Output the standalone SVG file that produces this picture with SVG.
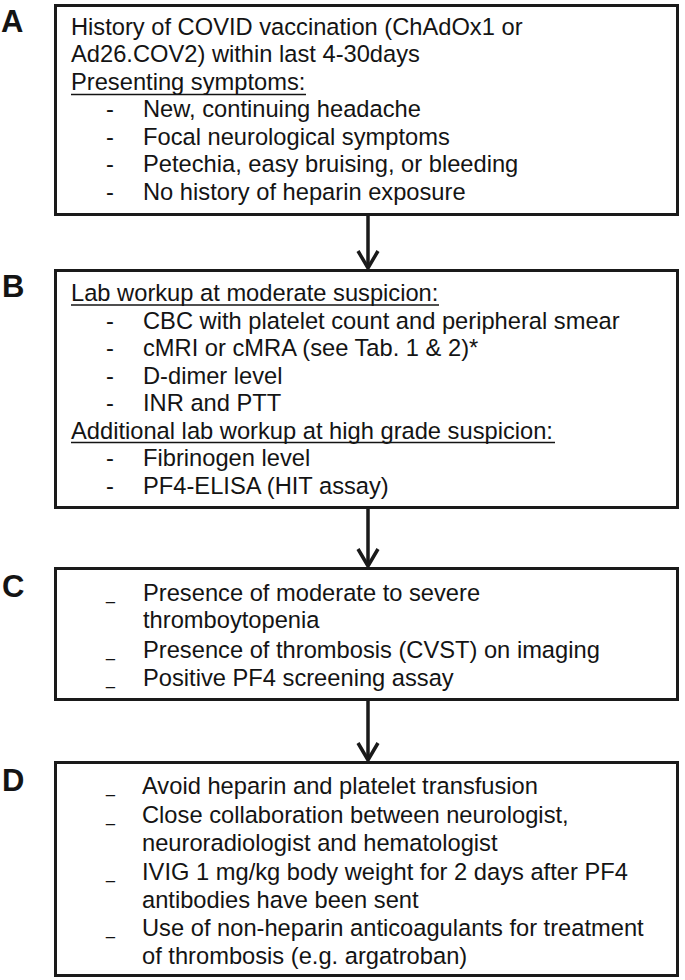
<svg xmlns="http://www.w3.org/2000/svg" width="685" height="980" viewBox="0 0 685 980">
<style>
  .box { fill: #ffffff; stroke: #1a1a1a; stroke-width: 3; }
  .t { font-family: "Liberation Sans", Arial, sans-serif; font-size: 23.7px; fill: #141414; }
  .ul { stroke: #141414; stroke-width: 1.6; }
  .lab { font-family: "Liberation Sans", Arial, sans-serif; font-size: 31px; font-weight: bold; fill: #141414; }
  .bul { font-family: "Liberation Sans", Arial, sans-serif; font-size: 16px; fill: #141414; }
  .conn line, .conn polyline { stroke: #1a1a1a; stroke-width: 3.5; fill: none; }
</style>
<rect width="685" height="980" fill="#ffffff"/>

<g id="conn" class="conn">
  <line x1="368" y1="215" x2="368" y2="268"/>
  <polyline points="358,251 368,268 378,251"/>
  <line x1="368" y1="508" x2="368" y2="566"/>
  <polyline points="358,549 368,566 378,549"/>
  <line x1="368" y1="700" x2="368" y2="760"/>
  <polyline points="358,743 368,760 378,743"/>
</g>

<g id="nodeA">
  <text class="lab" x="1" y="32">A</text>
  <rect class="box" x="55.5" y="5.5" width="622" height="209"/>
  <text class="t" x="71" y="35">History of COVID vaccination (ChAdOx1 or</text>
  <text class="t" x="71" y="62">Ad26.COV2) within last 4-30days</text>
  <text class="t" x="71" y="89.5">Presenting symptoms:</text>
  <line class="ul" x1="71" y1="94.5" x2="306" y2="94.5"/>
  <text class="t" x="106" y="117">-</text>
  <text class="t" x="143" y="117">New, continuing headache</text>
  <text class="t" x="106" y="144.5">-</text>
  <text class="t" x="143" y="144.5">Focal neurological symptoms</text>
  <text class="t" x="106" y="172">-</text>
  <text class="t" x="143" y="172">Petechia, easy bruising, or bleeding</text>
  <text class="t" x="106" y="199.5">-</text>
  <text class="t" x="143" y="199.5">No history of heparin exposure</text>
</g>

<g id="nodeB">
  <text class="lab" x="2" y="297">B</text>
  <rect class="box" x="55.5" y="270.5" width="622" height="237"/>
  <text class="t" x="71" y="301">Lab workup at moderate suspicion:</text>
  <line class="ul" x1="71" y1="305" x2="439" y2="305"/>
  <text class="t" x="106" y="328.5">-</text>
  <text class="t" x="143" y="328.5">CBC with platelet count and peripheral smear</text>
  <text class="t" x="106" y="356">-</text>
  <text class="t" x="143" y="356">cMRI or cMRA (see Tab. 1 &amp; 2)*</text>
  <text class="t" x="106" y="383.5">-</text>
  <text class="t" x="143" y="383.5">D-dimer level</text>
  <text class="t" x="106" y="411">-</text>
  <text class="t" x="143" y="411">INR and PTT</text>
  <text class="t" x="71" y="438.5">Additional lab workup at high grade suspicion:</text>
  <line class="ul" x1="71" y1="442.5" x2="555" y2="442.5"/>
  <text class="t" x="106" y="466">-</text>
  <text class="t" x="143" y="466">Fibrinogen level</text>
  <text class="t" x="106" y="493.5">-</text>
  <text class="t" x="143" y="493.5">PF4-ELISA (HIT assay)</text>
</g>

<g id="nodeC">
  <text class="lab" x="2" y="597">C</text>
  <rect class="box" x="55.5" y="568.5" width="622" height="131"/>
  <text class="bul" x="106" y="600">_</text>
  <text class="t" x="143" y="601">Presence of moderate to severe</text>
  <text class="t" x="143" y="628">thromboytopenia</text>
  <text class="bul" x="106" y="657">_</text>
  <text class="t" x="143" y="658">Presence of thrombosis (CVST) on imaging</text>
  <text class="bul" x="106" y="685">_</text>
  <text class="t" x="143" y="686">Positive PF4 screening assay</text>
</g>

<g id="nodeD">
  <text class="lab" x="2" y="791">D</text>
  <rect class="box" x="55.5" y="762.5" width="622" height="213"/>
  <text class="bul" x="106" y="793">_</text>
  <text class="t" x="142" y="794">Avoid heparin and platelet transfusion</text>
  <text class="bul" x="106" y="822">_</text>
  <text class="t" x="142" y="823">Close collaboration between neurologist,</text>
  <text class="t" x="142" y="851">neuroradiologist and hematologist</text>
  <text class="bul" x="106" y="879">_</text>
  <text class="t" x="142" y="880">IVIG 1 mg/kg body weight for 2 days after PF4</text>
  <text class="t" x="142" y="908">antibodies have been sent</text>
  <text class="bul" x="106" y="935">_</text>
  <text class="t" x="142" y="936">Use of non-heparin anticoagulants for treatment</text>
  <text class="t" x="142" y="964">of thrombosis (e.g. argatroban)</text>
</g>
</svg>
